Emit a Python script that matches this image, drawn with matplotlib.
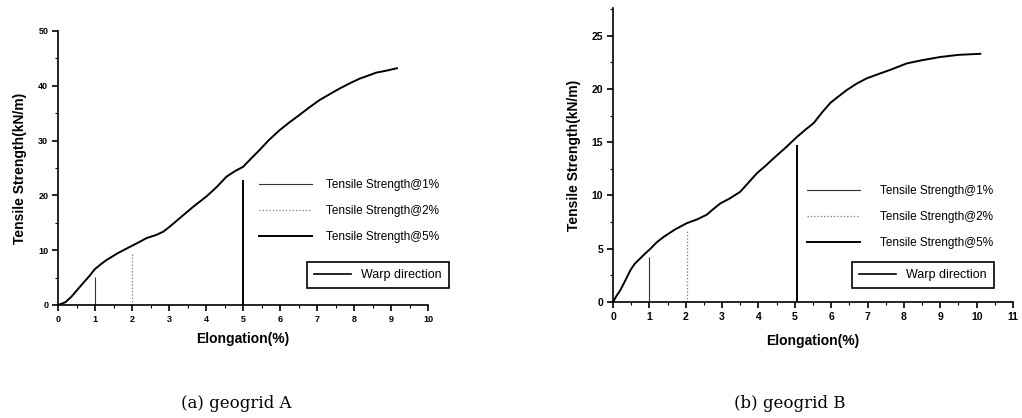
import matplotlib
matplotlib.use("Agg")
import matplotlib.pyplot as plt
from matplotlib.lines import Line2D
from matplotlib.ticker import MultipleLocator

# ---- data ----
elong_a = [0, 0.2, 0.36, 0.5, 0.68, 0.85, 0.99, 1.15, 1.31, 1.6, 1.94, 2.2, 2.39, 2.66, 2.85,
           3.02, 3.3, 3.65, 4.01, 4.3, 4.55, 4.8, 5.0, 5.2, 5.45, 5.7, 5.99, 6.25, 6.53, 6.8,
           7.07, 7.35, 7.61, 7.9, 8.15, 8.4, 8.6, 8.9, 9.16]
tens_a = [0, 0.5, 1.5, 2.6, 4.0, 5.3, 6.5, 7.4, 8.2, 9.4, 10.6, 11.5, 12.2, 12.8, 13.4,
          14.3, 15.9, 17.9, 19.8, 21.6, 23.4, 24.5, 25.2, 26.6, 28.3, 30.1, 31.9, 33.3, 34.7, 36.1,
          37.4, 38.5, 39.5, 40.5, 41.3, 41.9, 42.4, 42.8, 43.2]
marks_a_x = [1.0, 2.0, 5.0]
marks_a_y = [5.2, 9.4, 22.8]

elong_b = [0, 0.1, 0.2, 0.35, 0.48, 0.6, 0.75, 0.9, 1.03, 1.2, 1.39, 1.7, 2.03, 2.31, 2.58,
           2.75, 2.95, 3.2, 3.5, 3.75, 3.96, 4.2, 4.42, 4.75, 5.06, 5.3, 5.52, 5.75, 5.98, 6.2,
           6.43, 6.7, 6.98, 7.3, 7.63, 8.08, 8.5, 9.0, 9.5, 10.1]
tens_b = [0, 0.6, 1.1, 2.1, 3.0, 3.6, 4.1, 4.6, 5.0, 5.6, 6.1, 6.8, 7.4, 7.75, 8.2,
          8.7, 9.25, 9.7, 10.35, 11.3, 12.1, 12.8, 13.5, 14.5, 15.5, 16.2, 16.8, 17.8, 18.7, 19.3,
          19.9, 20.5, 21.0, 21.4, 21.8, 22.4, 22.7, 23.0, 23.2, 23.3]
marks_b_x = [1.0, 2.03, 5.05]
marks_b_y = [4.2, 6.7, 14.7]

mark_labels = ["Tensile Strength@1%", "Tensile Strength@2%", "Tensile Strength@5%"]
curve_label = "Warp direction"
captions = ["(a) geogrid A", "(b) geogrid B"]

plt.rcParams['font.family'] = ['Liberation Sans', 'DejaVu Sans']

fig = plt.figure(figsize=(10.22, 4.18), dpi=100)
W, H = 1022, 418

def ax_at(x0, x1, ytop, ybot):
    return fig.add_axes([x0 / W, 1 - ybot / H, (x1 - x0) / W, (ybot - ytop) / H])

ax1 = ax_at(58, 428, 31, 305)
ax2 = ax_at(613, 1013, 8, 302)

mark_styles = [dict(color='#333333', lw=0.8, ls='-'),
               dict(color='#777777', lw=0.9, ls=':'),
               dict(color='black', lw=1.4, ls='-')]

def draw(ax, xs, ys, mx, my, xlim, ylim, ymaj, ymin, tsize):
    ax.plot(xs, ys, color='black', lw=1.4)
    for x, y, st in zip(mx, my, mark_styles):
        ax.vlines(x, 0, y, **st)
    ax.set_xlim(*xlim)
    ax.set_ylim(*ylim)
    ax.xaxis.set_major_locator(MultipleLocator(1))
    ax.xaxis.set_minor_locator(MultipleLocator(0.5))
    ax.yaxis.set_major_locator(MultipleLocator(ymaj))
    ax.yaxis.set_minor_locator(MultipleLocator(ymin))
    for s in ['top', 'right']:
        ax.spines[s].set_visible(False)
    for s in ['left', 'bottom']:
        ax.spines[s].set_linewidth(1.2)
    ax.tick_params(which='major', direction='out', length=4, width=1.2, labelsize=tsize, pad=3)
    ax.tick_params(which='minor', direction='out', length=2, width=0.8)
    for lab in ax.get_xticklabels() + ax.get_yticklabels():
        lab.set_fontweight('bold')
    ax.set_xlabel("Elongation(%)", fontsize=10, fontweight='bold', labelpad=6)
    ax.set_ylabel("Tensile Strength(kN/m)", fontsize=10, fontweight='bold', labelpad=8)

draw(ax1, elong_a, tens_a, marks_a_x, marks_a_y, (0, 10), (0, 50), 10, 5, 6.5)
draw(ax2, elong_b, tens_b, marks_b_x, marks_b_y, (0, 11), (0, 27.6), 5, 2.5, 7.5)
ax2.xaxis.labelpad = 9

handles = [Line2D([], [], **st) for st in mark_styles]
curve_h = [Line2D([], [], color='black', lw=1.2)]

def legends(x_left, y_top, wx, wy, tpad):
    fig.legend(handles, mark_labels, loc='upper left',
               bbox_to_anchor=(x_left / W, 1 - y_top / H), frameon=False,
               fontsize=8.5, handlelength=4.5, handletextpad=tpad, labelspacing=1.2,
               borderaxespad=0)
    fig.legend(curve_h, [curve_label], loc='upper left',
               bbox_to_anchor=(wx / W, 1 - wy / H), frameon=True, fancybox=False,
               edgecolor='black', framealpha=1, fontsize=9, handlelength=3.0,
               handletextpad=0.8, borderaxespad=0, borderpad=0.55).get_frame().set_linewidth(1.2)

legends(254, 174, 307, 262, 1.2)
legends(802, 180, 852, 262, 1.7)

fig.text(236 / W, 1 - 403 / H, captions[0], fontsize=12, family='DejaVu Serif',
         ha='center', va='center')
fig.text(790 / W, 1 - 403 / H, captions[1], fontsize=12, family='DejaVu Serif',
         ha='center', va='center')

fig.savefig("out.png", dpi=100)
